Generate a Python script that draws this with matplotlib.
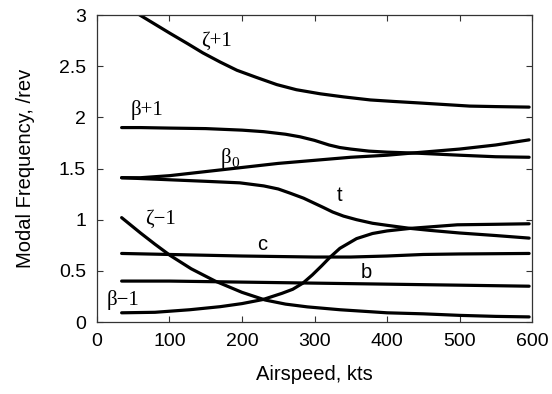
import matplotlib
matplotlib.use("Agg")
import matplotlib.pyplot as plt

# Modal frequencies (/rev) versus airspeed (kts)
zeta_p1_x = [34, 59, 80, 101, 125, 146, 170, 193, 220, 248, 275, 308, 340, 377, 410, 446, 480, 514, 550, 596]
zeta_p1_y = [3.12, 3.00, 2.91, 2.82, 2.72, 2.63, 2.54, 2.46, 2.39, 2.32, 2.27, 2.23, 2.20, 2.17, 2.155, 2.14, 2.125, 2.11, 2.105, 2.10]

beta_p1_x = [34, 60, 100, 150, 200, 230, 260, 280, 300, 320, 335, 350, 375, 400, 441, 500, 550, 596]
beta_p1_y = [1.90, 1.90, 1.895, 1.89, 1.875, 1.86, 1.835, 1.81, 1.775, 1.73, 1.705, 1.69, 1.67, 1.66, 1.65, 1.63, 1.615, 1.61]

beta0_x = [34, 60, 100, 150, 200, 250, 300, 350, 400, 441, 500, 550, 596]
beta0_y = [1.41, 1.41, 1.43, 1.47, 1.51, 1.55, 1.58, 1.61, 1.63, 1.655, 1.69, 1.73, 1.78]

t_x = [34, 100, 150, 197, 230, 250, 266, 285, 300, 312, 325, 340, 358, 380, 400, 432, 460, 500, 550, 596]
t_y = [1.41, 1.39, 1.375, 1.36, 1.33, 1.30, 1.26, 1.21, 1.16, 1.12, 1.075, 1.035, 1.00, 0.965, 0.945, 0.915, 0.895, 0.87, 0.845, 0.82]

beta_m1_x = [34, 80, 128, 170, 200, 229, 255, 270, 284, 297, 310, 321, 335, 358, 380, 400, 432, 460, 497, 550, 596]
beta_m1_y = [0.09, 0.095, 0.12, 0.15, 0.18, 0.22, 0.28, 0.32, 0.38, 0.46, 0.55, 0.63, 0.72, 0.815, 0.865, 0.89, 0.915, 0.93, 0.95, 0.955, 0.96]

zeta_m1_x = [34, 60, 80, 101, 130, 163, 200, 232, 260, 290, 335, 400, 450, 500, 550, 596]
zeta_m1_y = [1.02, 0.87, 0.76, 0.65, 0.52, 0.40, 0.29, 0.215, 0.175, 0.148, 0.12, 0.09, 0.08, 0.065, 0.055, 0.05]

c_x = [34, 100, 200, 300, 350, 400, 450, 500, 596]
c_y = [0.67, 0.66, 0.645, 0.635, 0.635, 0.645, 0.66, 0.665, 0.67]

b_x = [34, 100, 200, 300, 400, 500, 596]
b_y = [0.40, 0.40, 0.39, 0.38, 0.37, 0.36, 0.35]

x_ticks = [0, 100, 200, 300, 400, 500, 600]
y_ticks = [0, 0.5, 1, 1.5, 2, 2.5, 3]
y_tick_labels = ["0", "0.5", "1", "1.5", "2", "2.5", "3"]

sans = "Liberation Sans"
serif = "Liberation Serif"

fig = plt.figure(figsize=(5.52, 3.94), dpi=100)
ax = fig.add_axes([0.1757, 0.1827, 0.9638 - 0.1757, 0.9619 - 0.1827])

curves = [
    (zeta_p1_x, zeta_p1_y), (beta_p1_x, beta_p1_y), (beta0_x, beta0_y),
    (t_x, t_y), (beta_m1_x, beta_m1_y), (zeta_m1_x, zeta_m1_y),
    (c_x, c_y), (b_x, b_y),
]
for xs, ys in curves:
    ax.plot(xs, ys, color="black", lw=2.3, solid_joinstyle="round",
            solid_capstyle="round")

ax.set_xlim(0, 600)
ax.set_ylim(0, 3)
ax.set_xticks(x_ticks)
ax.set_xticklabels([str(v) for v in x_ticks])
ax.set_yticks(y_ticks)
ax.set_yticklabels(y_tick_labels)
ax.tick_params(direction="in", length=4, width=0.8, top=True, right=True,
               labelsize=14, color="#333333")
ax.tick_params(axis="x", pad=8)
ax.tick_params(axis="y", pad=8)
for lab in ax.get_xticklabels() + ax.get_yticklabels():
    lab.set_fontfamily(sans)
for sp in ax.spines.values():
    sp.set_color("#333333")
    sp.set_linewidth(0.9)

ax.set_xlabel("Airspeed, kts", fontsize=14.5, family=sans, labelpad=11)
ax.set_ylabel("Modal Frequency, /rev", fontsize=14.5, family=sans, labelpad=17)

# Mode labels
ax.text(165, 2.74, "ζ+1", fontsize=15, family=serif, ha="center", va="center")
ax.text(69, 2.07, "β+1", fontsize=15, family=serif, ha="center", va="center")
ax.text(178, 1.60, "β", fontsize=15, family=serif, ha="center", va="center")
ax.text(191, 1.545, "0", fontsize=11, family=serif, ha="center", va="center")
ax.text(334, 1.24, "t", fontsize=14.5, family=sans, ha="center", va="center")
ax.text(87, 1.00, "ζ−1", fontsize=15, family=serif, ha="center", va="center")
ax.text(228, 0.76, "c", fontsize=14.5, family=sans, ha="center", va="center")
ax.text(372, 0.48, "b", fontsize=14.5, family=sans, ha="center", va="center")
ax.text(36, 0.22, "β−1", fontsize=15, family=serif, ha="center", va="center")

fig.savefig("out.png", dpi=100)
